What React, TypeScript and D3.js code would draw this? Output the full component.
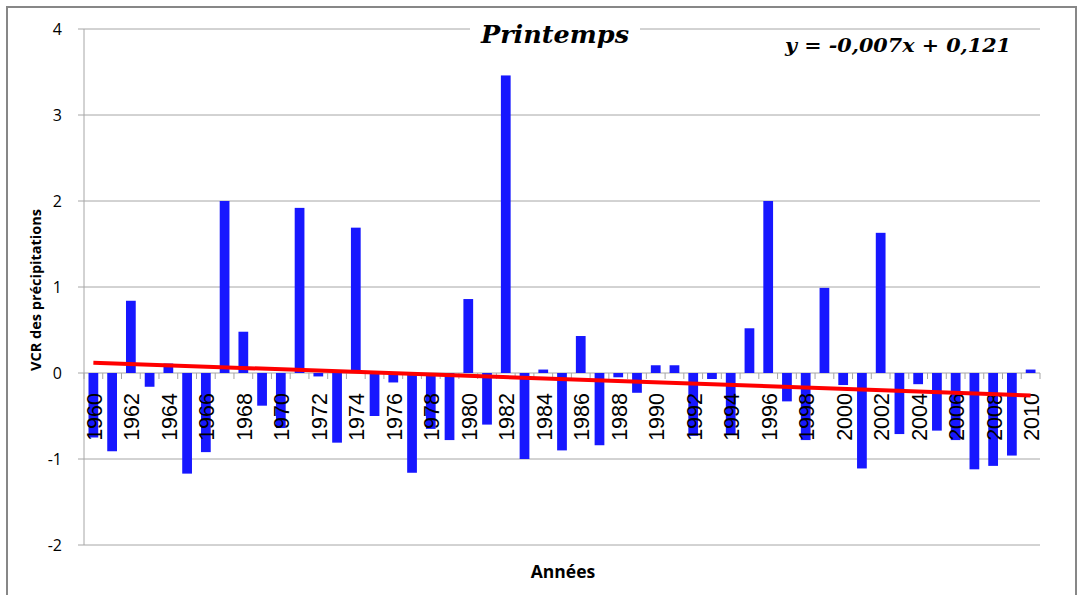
import React from "react";
import * as d3 from "d3";

const years: number[] = d3.range(1960, 2011);
const values: number[] = [
  -0.75, -0.91, 0.84, -0.16, 0.11, -1.17, -0.92, 2.0, 0.48, -0.38,
  -0.64, 1.92, -0.04, -0.81, 1.69, -0.5, -0.11, -1.16, -0.65, -0.78,
  0.86, -0.6, 3.46, -1.0, 0.04, -0.9, 0.43, -0.84, -0.05, -0.23,
  0.09, 0.09, -0.73, -0.07, -0.72, 0.52, 2.0, -0.33, -0.78, 0.99,
  -0.14, -1.11, 1.63, -0.71, -0.13, -0.67, -0.78, -1.12, -1.08, -0.96,
  0.04,
];
const yTicks: number[] = [-2, -1, 0, 1, 2, 3, 4];
const xLabelYears: number[] = years.filter((y) => (y - 1960) % 2 === 0);
// trend line as drawn (unrounded estimate of the displayed equation)
const trendSlope = -0.0076;
const trendIntercept = 0.127;
const titleText = "Printemps";
const equationText = "y = -0,007x + 0,121";
const yAxisTitle = "VCR des précipitations";
const xAxisTitle = "Années";

const W = 1084;
const H = 595;
const left = 84;
const right = 1040;
const top = 29;
const bottom = 545;

export default function App() {
  const x = d3.scaleBand<number>().domain(years).range([left, right]).padding(0);
  const y = d3.scaleLinear().domain([-2, 4]).range([bottom, top]);
  const step = x.step();
  const barW = step * 0.52;
  const cx = (yr: number) => (x(yr) as number) + step / 2;
  const grid = "#a6a6a6";

  const line = d3
    .line<number>()
    .x((yr) => cx(yr))
    .y((yr) => y(trendIntercept + trendSlope * (yr - 1960 + 1)));

  return (
    <svg
      width={W}
      height={H}
      style={{ position: "absolute", left: 0, top: 0, background: "#fff" }}
    >
      <rect x={0} y={0} width={W} height={H} fill="#fff" />
      <rect x={7} y={7} width={1069} height={620} fill="#fff" stroke="#878787" strokeWidth={2} />

      {/* gridlines */}
      {yTicks.map((t) => (
        <line key={"g" + t} x1={left - 6} x2={right} y1={y(t)} y2={y(t)} stroke={grid} strokeWidth={1} />
      ))}
      {/* y axis */}
      <line x1={left} x2={left} y1={top} y2={bottom} stroke={grid} strokeWidth={1} />
      {/* x tick marks */}
      {years.concat([2011]).map((yr, i) => {
        const xx = left + i * step;
        return <line key={"xt" + i} x1={xx} x2={xx} y1={y(0)} y2={y(0) + 6} stroke={grid} strokeWidth={1} />;
      })}

      {/* title */}
      <rect x={470} y={14} width={170} height={32} fill="#fff" />
      <text
        x={555}
        y={43}
        textAnchor="middle"
        fontFamily="'DejaVu Serif', serif"
        fontStyle="italic"
        fontWeight="bold"
        fontSize={24}
        textLength={148}
        lengthAdjust="spacingAndGlyphs"
      >
        {titleText}
      </text>
      <text
        x={785}
        y={52}
        fontFamily="'DejaVu Serif', serif"
        fontStyle="italic"
        fontWeight="bold"
        fontSize={19}
        textLength={226}
        lengthAdjust="spacingAndGlyphs"
      >
        {equationText}
      </text>

      {/* bars */}
      {years.map((yr, i) => {
        const v = values[i];
        const y0 = y(0);
        const y1 = y(v);
        return (
          <rect
            key={"b" + yr}
            x={cx(yr) - barW / 2}
            y={Math.min(y0, y1)}
            width={barW}
            height={Math.abs(y1 - y0)}
            fill="#1717ff"
          />
        );
      })}

      {/* x labels */}
      {xLabelYears.map((yr) => (
        <g key={"xl" + yr} transform={`translate(${cx(yr) + 8.5},393)`}>
          <text
            transform="rotate(-90)"
            x={0}
            y={0}
            textAnchor="end"
            fontFamily="'Liberation Sans', Arial, sans-serif"
            fontSize={21.5}
            fill="#000"
          >
            {yr}
          </text>
        </g>
      ))}

      {/* trend line */}
      <path d={line([1960, 2010]) as string} fill="none" stroke="#ff0000" strokeWidth={4} />

      {/* y tick labels */}
      {yTicks.map((t) => (
        <text
          key={"yl" + t}
          x={62}
          y={y(t)}
          dy="0.35em"
          textAnchor="end"
          fontFamily="'Open Sans', sans-serif"
          fontSize={16}
          fill="#000"
        >
          {t}
        </text>
      ))}

      {/* axis titles */}
      <g transform="translate(41,290)">
        <text
          transform="rotate(-90)"
          textAnchor="middle"
          fontFamily="'Open Sans', sans-serif"
          fontWeight="bold"
          fontSize={14.5}
          fill="#000"
        >
          {yAxisTitle}
        </text>
      </g>
      <text
        x={563}
        y={578}
        textAnchor="middle"
        fontFamily="'Open Sans', sans-serif"
        fontWeight="bold"
        fontSize={17.5}
        fill="#000"
      >
        {xAxisTitle}
      </text>
    </svg>
  );
}
